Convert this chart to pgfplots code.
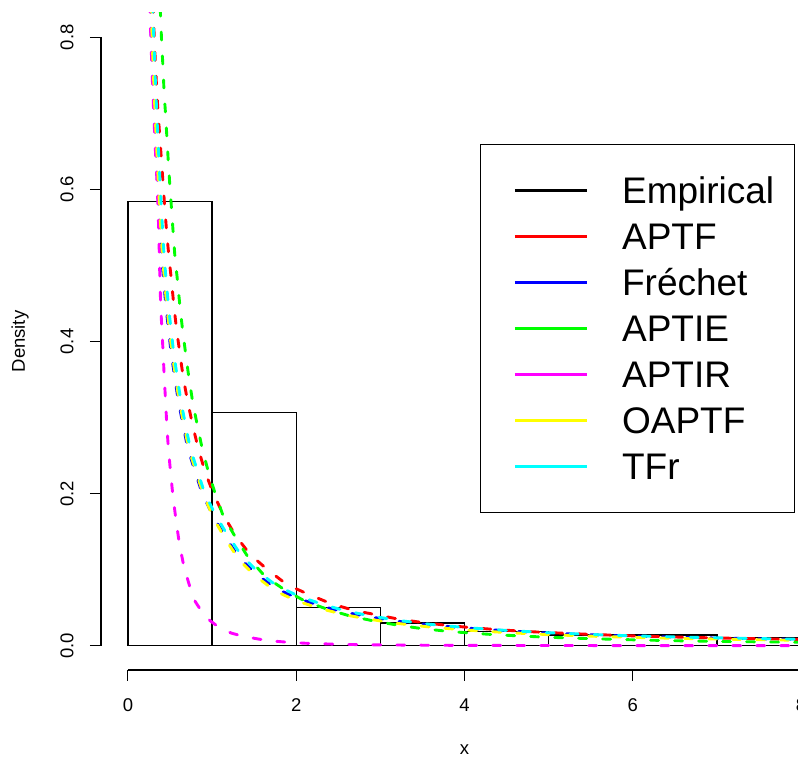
\documentclass[border=0pt]{standalone}
\usepackage{fontspec}
\setmainfont{Liberation Sans}
\usepackage{pgfplots}
\pgfplotsset{compat=1.18}
\definecolor{rred}{RGB}{255,0,0}
\definecolor{rblue}{RGB}{0,0,255}
\definecolor{rgreen}{RGB}{0,255,0}
\definecolor{rmag}{RGB}{255,0,255}
\definecolor{ryellow}{RGB}{255,255,0}
\definecolor{rcyan}{RGB}{0,255,255}
\pgfplotsset{dens/.style={dash pattern=on 8pt off 16pt, line cap=round, line width=2.9pt, forget plot}}
\begin{document}
\begin{tikzpicture}
\begin{axis}[
  at={(0pt,0pt)}, anchor=south west,
  scale only axis, width=727pt, height=657pt,
  xmin=-0.32, xmax=8.32, ymin=-0.032, ymax=0.832,
  clip mode=individual,
  axis lines*=left,
  axis line style={draw=none},
  xtick={0,2,4,6,8}, ytick={0,0.2,0.4,0.6,0.8},
  tick align=outside, major tick length=11pt,
  tick style={black, line width=1.1pt},
  font=\fontsize{18.5}{22}\selectfont,
  /pgf/number format/assume math mode=true,
  yticklabel style={/pgf/number format/fixed, /pgf/number format/fixed zerofill, /pgf/number format/precision=1, xshift=-23pt, rotate=90, anchor=center},
  xticklabel style={yshift=-24pt, anchor=center},
  xlabel={x}, ylabel={Density},
  xlabel style={at={(axis description cs:0.5,-0.1218)}, anchor=center},
  ylabel style={at={(axis description cs:-0.1114,0.5)}, anchor=center},
  legend style={at={(axis description cs:0.5213,0.8006)}, anchor=north west, draw=black, line width=1pt,
    inner xsep=20pt, inner ysep=23pt, font=\fontsize{37}{44}\selectfont,
    nodes={inner sep=0pt, text height=36pt, text depth=10pt}, column sep=34pt, row sep=0pt},
  legend cell align=left,
  legend image code/.code={\path (-13pt,0pt); \draw[#1] (0pt,0pt) -- (72pt,0pt);},
]
% histogram (empirical)
\addplot[black, line width=1.2pt, forget plot, line join=miter] coordinates {
(0,0) (0,0.584) (1,0.584) (1,0) (1,0.307) (2,0.307) (2,0) (2,0.0497) (3,0.0497) (3,0)
(3,0.0298) (4,0.0298) (4,0) (4,0.0188) (5,0.0188) (5,0) (5,0.0140) (7,0.0140) (7,0)
(7,0.0105) (9,0.0105) (9,0) (0,0)};
% APTF
\addplot[rred, dens] coordinates {
(0.29,0.875) (0.305,0.825) (0.315,0.793) (0.329,0.762) (0.342,0.730) (0.360,0.699) (0.380,0.667)
(0.400,0.636) (0.420,0.604) (0.440,0.573) (0.462,0.541) (0.487,0.512) (0.519,0.478) (0.547,0.446)
(0.579,0.415) (0.618,0.384) (0.658,0.352) (0.710,0.321) (0.769,0.290) (0.836,0.259) (0.916,0.229)
(1.012,0.201) (1.134,0.172) (1.272,0.146) (1.45,0.120) (1.669,0.099) (1.894,0.080) (2.156,0.067)
(2.42,0.055) (2.70,0.046) (2.957,0.0405) (3.234,0.0345) (3.53,0.0300) (3.83,0.0263) (4.106,0.0234)
(4.40,0.0210) (4.68,0.0190) (4.98,0.0173) (5.5,0.0148) (6.0,0.0129) (6.5,0.0114) (7.0,0.0101)
(7.5,0.0091) (8.0,0.0082) (8.5,0.0075)};
% Frechet
\addplot[rblue, dens] coordinates {
(0.255,0.875) (0.270,0.825) (0.289,0.762) (0.313,0.699) (0.340,0.636) (0.368,0.573) (0.400,0.512)
(0.452,0.446) (0.515,0.384) (0.600,0.321) (0.712,0.259) (0.880,0.201) (1.014,0.170) (1.153,0.144)
(1.312,0.117) (1.51,0.0955) (1.748,0.0758) (2.006,0.0627) (2.283,0.0526) (2.56,0.0443) (2.838,0.0385)
(3.2,0.0322) (3.6,0.0272) (4.0,0.0233) (4.5,0.0195) (5.0,0.0166) (5.5,0.0144) (6.0,0.0126)
(6.5,0.0112) (7.0,0.0100) (7.5,0.0090) (8.0,0.0082) (8.5,0.0075)};
% APTIE
\addplot[rgreen, dens] coordinates {
(0.372,0.870) (0.389,0.825) (0.401,0.793) (0.416,0.762) (0.429,0.730) (0.447,0.699) (0.464,0.667)
(0.480,0.636) (0.499,0.604) (0.519,0.573) (0.539,0.541) (0.559,0.511) (0.591,0.478) (0.618,0.446)
(0.650,0.415) (0.686,0.384) (0.725,0.352) (0.769,0.321) (0.824,0.290) (0.883,0.259) (0.955,0.229)
(1.034,0.201) (1.134,0.170) (1.284,0.1415) (1.43,0.116) (1.63,0.091) (1.86,0.0736) (2.105,0.0585)
(2.38,0.0475) (2.64,0.0390) (2.92,0.0325) (3.195,0.0272) (3.47,0.0228) (3.77,0.0192) (4.05,0.0167)
(4.34,0.0146) (4.62,0.0130) (4.90,0.0115) (5.22,0.0102) (5.5,0.0092) (6.0,0.0077) (6.5,0.0065)
(7.0,0.0056) (7.5,0.0050) (8.0,0.0045) (8.5,0.0041)};
% APTIR
\addplot[rmag, dens] coordinates {
(0.250,0.875) (0.265,0.825) (0.284,0.762) (0.307,0.699) (0.333,0.636) (0.349,0.604) (0.358,0.573)
(0.368,0.541) (0.374,0.509) (0.381,0.478) (0.390,0.446) (0.404,0.415) (0.419,0.384) (0.432,0.352)
(0.448,0.321) (0.462,0.290) (0.481,0.259) (0.506,0.229) (0.531,0.201) (0.57,0.166) (0.61,0.135)
(0.665,0.104) (0.737,0.077) (0.80,0.058) (0.876,0.045) (0.975,0.033) (1.094,0.023) (1.23,0.0165)
(1.371,0.0122) (1.65,0.0068) (1.93,0.0042) (2.2,0.0027) (2.6,0.0016) (3.0,0.0010) (3.5,0.0006)
(4.0,0.0004) (5.0,0.0002) (6.0,0.0001) (7.0,0.00007) (8.5,0.00004)};
% OAPTF
\addplot[ryellow, dens] coordinates {
(0.265,0.875) (0.280,0.825) (0.299,0.762) (0.323,0.699) (0.350,0.636) (0.378,0.573) (0.410,0.512)
(0.462,0.446) (0.525,0.384) (0.610,0.321) (0.722,0.259) (0.890,0.201) (1.02,0.167) (1.16,0.140)
(1.32,0.113) (1.51,0.092) (1.75,0.072) (2.0,0.059) (2.28,0.0490) (2.56,0.0410) (2.84,0.0352)
(3.2,0.0293) (3.6,0.0244) (4.0,0.0207) (4.5,0.0172) (5.0,0.0145) (5.5,0.0125) (6.0,0.0109)
(6.5,0.0097) (7.0,0.0087) (7.5,0.0078) (8.0,0.0071) (8.5,0.0065)};
% TFr
\addplot[rcyan, dens] coordinates {
(0.285,0.875) (0.300,0.825) (0.319,0.762) (0.343,0.699) (0.370,0.636) (0.398,0.573) (0.430,0.512)
(0.482,0.446) (0.545,0.384) (0.630,0.321) (0.742,0.259) (0.91,0.201) (1.04,0.172) (1.18,0.146)
(1.34,0.120) (1.53,0.0985) (1.76,0.0795) (2.02,0.0655) (2.30,0.0548) (2.57,0.0462) (2.85,0.0398)
(3.2,0.0334) (3.6,0.0280) (4.0,0.0239) (4.5,0.0200) (5.0,0.0170) (5.5,0.0147) (6.0,0.0129)
(6.5,0.0115) (7.0,0.0103) (7.5,0.0093) (8.0,0.0085) (8.5,0.0078)};
% legend
\addlegendimage{black, line width=2.3pt}
\addlegendentry{Empirical}
\addlegendimage{rred, line width=2.6pt}
\addlegendentry{APTF}
\addlegendimage{rblue, line width=2.6pt}
\addlegendentry{Fréchet}
\addlegendimage{rgreen, line width=2.6pt}
\addlegendentry{APTIE}
\addlegendimage{rmag, line width=2.6pt}
\addlegendentry{APTIR}
\addlegendimage{ryellow, line width=2.6pt}
\addlegendentry{OAPTF}
\addlegendimage{rcyan, line width=2.6pt}
\addlegendentry{TFr}
% R-style axis lines
\draw[black, line width=1.1pt] (axis cs:0,-0.032) -- (axis cs:8,-0.032);
\draw[black, line width=1.1pt] (axis cs:-0.32,0) -- (axis cs:-0.32,0.8);
\end{axis}
\pgfresetboundingbox
\path[use as bounding box] (-101pt,-89pt) rectangle (697pt,670pt);
\end{tikzpicture}
\end{document}
